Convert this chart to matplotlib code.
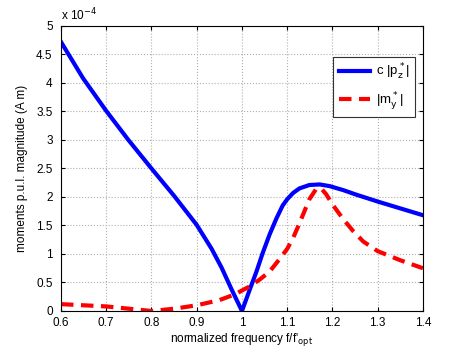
import matplotlib
matplotlib.use("Agg")
import matplotlib.pyplot as plt

plt.rcParams['font.family'] = ['Liberation Sans', 'DejaVu Sans']

# values in units of 1e-4 A m
freq_p = [0.6, 0.649, 0.7, 0.749, 0.8, 0.85, 0.9, 0.933, 0.955, 0.977, 1.0,
          1.017, 1.032, 1.046, 1.061, 1.076, 1.09, 1.1, 1.113, 1.127, 1.149,
          1.172, 1.194, 1.224, 1.253, 1.3, 1.35, 1.4]
p_mag = [4.72, 4.08, 3.51, 3.0, 2.5, 2.02, 1.51, 1.09, 0.76, 0.38, 0.0,
         0.37, 0.69, 1.02, 1.34, 1.62, 1.85, 1.96, 2.07, 2.15, 2.21,
         2.22, 2.19, 2.12, 2.04, 1.92, 1.80, 1.68]

freq_m = [0.6, 0.7, 0.8, 0.85, 0.9, 0.95, 0.987, 1.0, 1.017, 1.039, 1.061,
          1.083, 1.1, 1.113, 1.124, 1.135, 1.149, 1.164, 1.175, 1.186, 1.2,
          1.224, 1.246, 1.268, 1.3, 1.35, 1.4]
m_mag = [0.12, 0.08, 0.0, 0.04, 0.1, 0.19, 0.3, 0.36, 0.43, 0.55, 0.69,
         0.91, 1.09, 1.28, 1.48, 1.69, 1.96, 2.14, 2.15, 2.05, 1.87,
         1.61, 1.40, 1.22, 1.05, 0.89, 0.75]

xticks = [0.6, 0.7, 0.8, 0.9, 1.0, 1.1, 1.2, 1.3, 1.4]
xlabels = ['0.6', '0.7', '0.8', '0.9', '1', '1.1', '1.2', '1.3', '1.4']
yticks = [0, 0.5, 1, 1.5, 2, 2.5, 3, 3.5, 4, 4.5, 5]
ylabels = ['0', '0.5', '1', '1.5', '2', '2.5', '3', '3.5', '4', '4.5', '5']

fig = plt.figure(figsize=(4.67, 3.51), dpi=100)
ax = fig.add_axes([0.1306, 0.114, 0.775, 0.812])

ax.plot(freq_p, p_mag, color='#0000ff', lw=3, solid_joinstyle='round',
        label=r'c |p$_\mathrm{z}^*$|')
ax.plot(freq_m, m_mag, color='#ff0000', lw=3, ls=(0, (3.0, 1.8)),
        dash_joinstyle='round', label=r'|m$_\mathrm{y}^*$|')

ax.set_xlim(0.6, 1.4)
ax.set_ylim(0, 5)
ax.set_xticks(xticks)
ax.set_xticklabels(xlabels)
ax.set_yticks(yticks)
ax.set_yticklabels(ylabels)
ax.tick_params(direction='in', top=True, right=True, labelsize=8.5, length=3)
ax.tick_params(axis='x', pad=4)
ax.tick_params(axis='y', pad=6)
ax.grid(True, color='#b0b0b0', ls=':', lw=0.8)
ax.text(0, 1.01, r'x 10$^{-4}$', transform=ax.transAxes, fontsize=8.5,
        ha='left', va='bottom')

ax.set_xlabel(r"normalized frequency f/f'$_{\mathrm{opt}}$", fontsize=8.5, labelpad=2)
ax.set_ylabel('moments p.u.l. magnitude (A m)', fontsize=8.5, labelpad=6)

leg = ax.legend(loc='upper right', bbox_to_anchor=(0.978, 0.892), borderaxespad=0,
                fontsize=9.5, fancybox=False, edgecolor='#333333', framealpha=1,
                handlelength=2.4, handletextpad=0.4, borderpad=0.4,
                labelspacing=0.6)
leg.get_frame().set_linewidth(0.8)

fig.savefig('out.png', dpi=100)
